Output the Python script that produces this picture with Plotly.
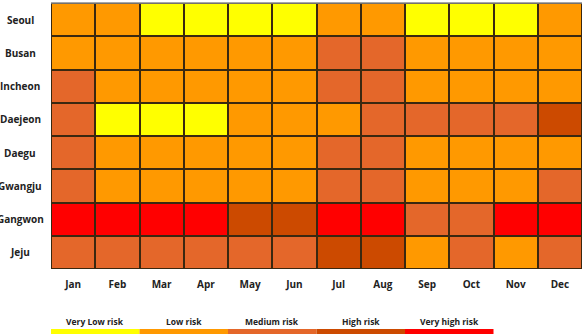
import plotly.graph_objects as go

months = ["Jan", "Feb", "Mar", "Apr", "May", "Jun", "Jul", "Aug", "Sep", "Oct", "Nov", "Dec"]
cities = ["Seoul", "Busan", "Incheon", "Daejeon", "Daegu", "Gwangju", "Gangwon", "Jeju"]
risk_labels = ["Very Low risk", "Low risk", "Medium risk", "High risk", "Very high risk"]
risk_colors = ["#FFFF00", "#FF9900", "#E4672A", "#CC4A00", "#FF0000"]

seoul   = [1, 1, 0, 0, 0, 0, 1, 1, 0, 0, 0, 1]
busan   = [1, 1, 1, 1, 1, 1, 2, 2, 1, 1, 1, 1]
incheon = [2, 1, 1, 1, 1, 1, 2, 2, 1, 1, 1, 1]
daejeon = [2, 0, 0, 0, 1, 1, 1, 2, 2, 2, 2, 3]
daegu   = [2, 1, 1, 1, 1, 1, 2, 2, 1, 1, 1, 1]
gwangju = [2, 1, 1, 1, 1, 1, 2, 2, 1, 1, 1, 2]
gangwon = [4, 4, 4, 4, 3, 3, 4, 4, 2, 2, 4, 4]
jeju    = [2, 2, 2, 2, 2, 2, 3, 3, 1, 2, 1, 2]

z = [seoul, busan, incheon, daejeon, daegu, gwangju, gangwon, jeju]

n = len(risk_colors)
colorscale = []
for i, c in enumerate(risk_colors):
    colorscale.append([i / n, c])
    colorscale.append([(i + 1) / n, c])

FONT = "Open Sans"
TXT = "#222222"

fig = go.Figure(go.Heatmap(
    z=z, x=months, y=cities,
    colorscale=colorscale, zmin=-0.5, zmax=n - 0.5,
    xgap=2, ygap=2,
    hoverinfo="skip",
    showscale=False,
))

# city labels, centred to the left of the grid
for c in cities:
    fig.add_annotation(
        x=-0.058, xref="paper", y=c, yref="y",
        text=c, showarrow=False, xanchor="center",
        font=dict(family=FONT, size=10, color=TXT, weight="bold"),
    )

# legend: each risk level spans two month columns
for i, (lab, col) in enumerate(zip(risk_labels, risk_colors)):
    x0 = 2 * i - 0.5
    x1 = 2 * i + 1.5
    fig.add_shape(type="rect", xref="x", yref="paper",
                  x0=x0, x1=x1, y0=-0.255, y1=-0.226,
                  fillcolor=col, line=dict(width=0), layer="above")
    fig.add_annotation(
        x=(x0 + x1) / 2, xref="x", y=-0.196, yref="paper",
        text=lab, showarrow=False, xanchor="center", yanchor="middle",
        font=dict(family=FONT, size=8.5, color=TXT, weight="bold"),
    )

# light top border line
fig.add_shape(type="line", xref="paper", yref="paper", x0=0, x1=1, y0=1, y1=1,
              line=dict(color="#8a8a8a", width=1.5))

fig.update_layout(
    width=587, height=334,
    margin=dict(l=51, r=5, t=3, b=65),
    paper_bgcolor="white",
    plot_bgcolor="#3a2810",
    xaxis=dict(showgrid=False, zeroline=False, ticks="", ticklabelstandoff=8,
               tickfont=dict(family=FONT, size=10, color=TXT, weight="bold"),
               showline=False),
    yaxis=dict(showgrid=False, zeroline=False, showticklabels=False,
               autorange="reversed"),
)

fig.write_html("out.html")
